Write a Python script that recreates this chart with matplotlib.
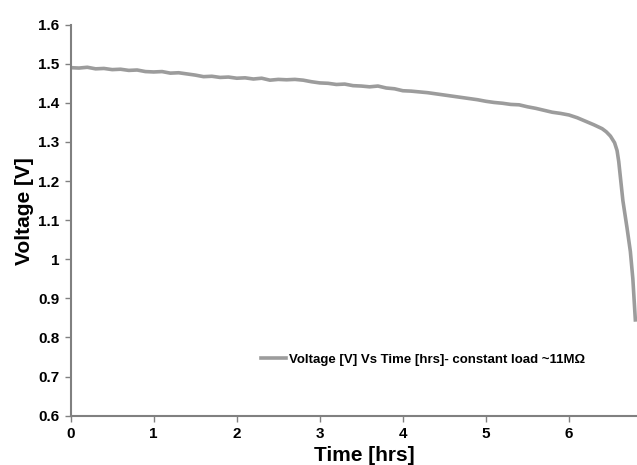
import matplotlib
matplotlib.use("Agg")
import matplotlib.pyplot as plt

# discharge curve
tiempo = [0.0, 0.1, 0.2, 0.3, 0.4, 0.5, 0.6, 0.7, 0.8, 0.9,
          1.0, 1.1, 1.2, 1.3, 1.4, 1.5, 1.6, 1.7, 1.8, 1.9,
          2.0, 2.1, 2.2, 2.3, 2.4, 2.5, 2.6, 2.7, 2.8, 2.9,
          3.0, 3.1, 3.2, 3.3, 3.4, 3.5, 3.6, 3.7, 3.8, 3.9,
          4.0, 4.1, 4.2, 4.3, 4.4, 4.5, 4.6, 4.7, 4.8, 4.9,
          5.0, 5.1, 5.2, 5.3, 5.4, 5.5, 5.6, 5.7, 5.8, 5.9,
          6.0, 6.1, 6.2, 6.3, 6.4, 6.45, 6.5, 6.55, 6.58, 6.6,
          6.62, 6.65, 6.7, 6.74, 6.77, 6.8]
voltaje = [1.490, 1.489, 1.491, 1.487, 1.488, 1.485, 1.486, 1.483, 1.484, 1.480,
           1.479, 1.480, 1.476, 1.477, 1.474, 1.471, 1.467, 1.468, 1.465, 1.466,
           1.463, 1.464, 1.461, 1.463, 1.458, 1.460, 1.459, 1.460, 1.458, 1.454,
           1.451, 1.450, 1.447, 1.448, 1.444, 1.443, 1.441, 1.443, 1.438, 1.436,
           1.431, 1.430, 1.428, 1.426, 1.423, 1.420, 1.417, 1.414, 1.411, 1.408,
           1.404, 1.401, 1.399, 1.396, 1.395, 1.390, 1.386, 1.381, 1.376, 1.373,
           1.369, 1.362, 1.353, 1.344, 1.334, 1.326, 1.315, 1.298, 1.278, 1.250,
           1.210, 1.150, 1.080, 1.020, 0.950, 0.845]

ticks_x = [0, 1, 2, 3, 4, 5, 6]
ticks_y = [0.6, 0.7, 0.8, 0.9, 1.0, 1.1, 1.2, 1.3, 1.4, 1.5, 1.6]
etiquetas_y = ["0.6", "0.7", "0.8", "0.9", "1", "1.1", "1.2", "1.3", "1.4", "1.5", "1.6"]

plt.rcParams["font.family"] = ["Liberation Sans", "DejaVu Sans"]
plt.rcParams["font.weight"] = "bold"

fig = plt.figure(figsize=(6.37, 4.65), dpi=100)
ax = fig.add_axes([0.111, 0.106, 0.889, 0.841])

ax.plot(tiempo, voltaje, color="#9c9c9c", linewidth=2.6,
        label="Voltage [V] Vs Time [hrs]- constant load ~11M\u03a9")

ax.set_xlim(0, 6.82)
ax.set_ylim(0.6, 1.6)
ax.set_xticks(ticks_x)
ax.set_yticks(ticks_y)
ax.set_yticklabels(etiquetas_y)
ax.tick_params(labelsize=11, length=4, width=1, color="#808080", pad=4)

for lado in ["top", "right"]:
    ax.spines[lado].set_visible(False)
for lado in ["left", "bottom"]:
    ax.spines[lado].set_color("#808080")
    ax.spines[lado].set_linewidth(1.5)

ax.set_xlabel("Time [hrs]", fontsize=15, fontweight="bold")
ax.xaxis.set_label_coords(0.518, -0.077)
ax.set_ylabel("Voltage [V]", fontsize=15, fontweight="bold")
ax.yaxis.set_label_coords(-0.065, 0.524)

ax.legend(loc="center left", bbox_to_anchor=(0.315, 0.143), frameon=False,
          fontsize=9.5, handlelength=1.9, handletextpad=0.2)

fig.savefig("out.png", dpi=100)
